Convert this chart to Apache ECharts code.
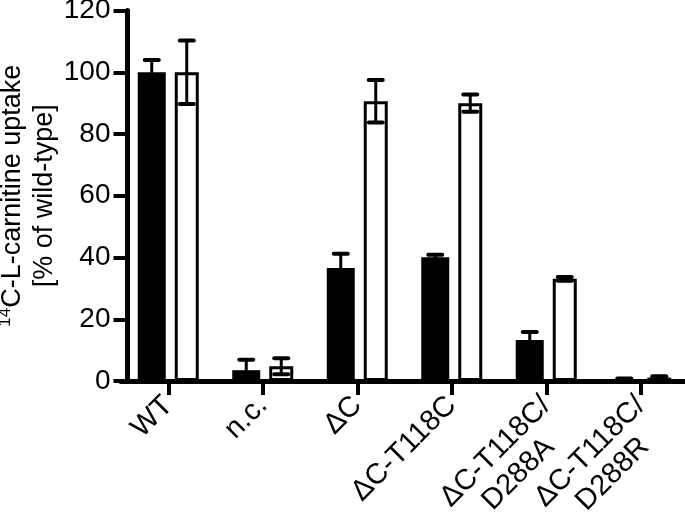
<!DOCTYPE html>
<html>
<head>
<meta charset="utf-8">
<script src="https://cdn.jsdelivr.net/npm/echarts@6/dist/echarts.min.js"></script>
<style>
html, body { margin: 0; padding: 0; background: #fff; }
#chart { width: 685px; height: 517px; }
</style>
</head>
<body>
<div id="chart"></div>
<script>
// categories and values
const categories = ['WT', 'n.c.', 'ΔC', 'ΔC-T118C', 'ΔC-T118C/D288A', 'ΔC-T118C/D288R'];
const blackValues = [100, 3.5, 36.6, 40.1, 13.3, 0.5];
const blackErrors = [4, 3.4, 4.6, 0.8, 2.6, 0.3];
const whiteValues = [100, 4.8, 90.6, 90, 33.1, 1.1];
const whiteErrors = [10.3, 2.6, 6.9, 2.8, 0.6, 0.4];
const yMin = 0, yMax = 120, yStep = 20;

const font = 'Liberation Sans, Arial, Helvetica, sans-serif';

// bar geometry
const blackWidth = 28, whiteWidth = 24, gapPx = 9;
const total = blackWidth + gapPx + whiteWidth;
const blackShift = -total / 2 + blackWidth / 2;
const whiteShift = total / 2 - whiteWidth / 2;

function errorSeries(values, errors, shift) {
  return {
    type: 'custom',
    z: 5,
    data: values.map((v, i) => [i, Math.max(v - errors[i], 0), v + errors[i]]),
    encode: {x: 0, y: [1, 2]},
    renderItem: function (params, api) {
      const lo = api.coord([api.value(0), api.value(1)]);
      const hi = api.coord([api.value(0), api.value(2)]);
      const x = lo[0] + shift;
      const half = 7;
      const st = {stroke: '#000', lineWidth: 3, lineCap: 'round'};
      const cap = {stroke: '#000', lineWidth: 4, lineCap: 'round'};
      return {
        type: 'group',
        children: [
          {type: 'line', shape: {x1: x, y1: lo[1], x2: x, y2: hi[1]}, style: st},
          {type: 'line', shape: {x1: x - half, y1: hi[1], x2: x + half, y2: hi[1]}, style: cap},
          {type: 'line', shape: {x1: x - half, y1: lo[1], x2: x + half, y2: lo[1]}, style: cap}
        ]
      };
    }
  };
}

const chart = echarts.init(document.getElementById('chart'));

chart.setOption({
  animation: false,
  backgroundColor: '#fff',
  textStyle: {fontFamily: font, color: '#000'},
  grid: {left: 121, right: -3, top: 10.5, bottom: 136, containLabel: false, outerBoundsMode: 'none'},
  xAxis: {
    type: 'category',
    data: categories,
    boundaryGap: true,
    axisLine: {show: true, lineStyle: {color: '#000', width: 5}},
    axisTick: {show: true, alignWithLabel: true, length: 14, lineStyle: {color: '#000', width: 4}},
    axisLabel: {
      rotate: 45,
      interval: 0,
      margin: 20,
      color: '#000',
      formatter: function (v) {
        const parts = v.split('/');
        if (parts.length > 1) {
          return '{c| }\n{c|' + parts[0] + '/}\n{c|' + parts[1] + '}';
        }
        return '{c|' + v + '}';
      },
      rich: {
        c: {fontFamily: font, fontSize: 29, lineHeight: 32, align: 'center', color: '#000'}
      }
    },
    splitLine: {show: false}
  },
  yAxis: {
    type: 'value',
    min: yMin,
    max: yMax,
    interval: yStep,
    offset: -6.5,
    axisLine: {show: true, lineStyle: {color: '#000', width: 5}},
    axisTick: {show: true, length: 14, lineStyle: {color: '#000', width: 4}},
    axisLabel: {fontFamily: font, fontSize: 28, color: '#000', margin: 17},
    splitLine: {show: false},
    name: '{sup|14}{n|C-L-carnitine uptake}\n{n|[% of wild-type]}',
    nameLocation: 'middle',
    nameGap: 67,
    nameMoveOverlap: false,
    nameTextStyle: {
      rich: {
        sup: {fontFamily: font, fontSize: 17, lineHeight: 32, verticalAlign: 'top', color: '#000'},
        n: {fontFamily: font, fontSize: 27, lineHeight: 32, align: 'center', color: '#000'}
      }
    }
  },
  series: [
    {
      type: 'bar',
      data: blackValues,
      barWidth: blackWidth,
      barGap: (gapPx / blackWidth * 100) + '%',
      itemStyle: {color: '#000'}
    },
    {
      type: 'bar',
      data: whiteValues,
      barWidth: whiteWidth,
      itemStyle: {color: '#fff', borderColor: '#000', borderWidth: 3}
    },
    errorSeries(blackValues, blackErrors, blackShift),
    errorSeries(whiteValues, whiteErrors, whiteShift)
  ]
});
</script>
</body>
</html>
